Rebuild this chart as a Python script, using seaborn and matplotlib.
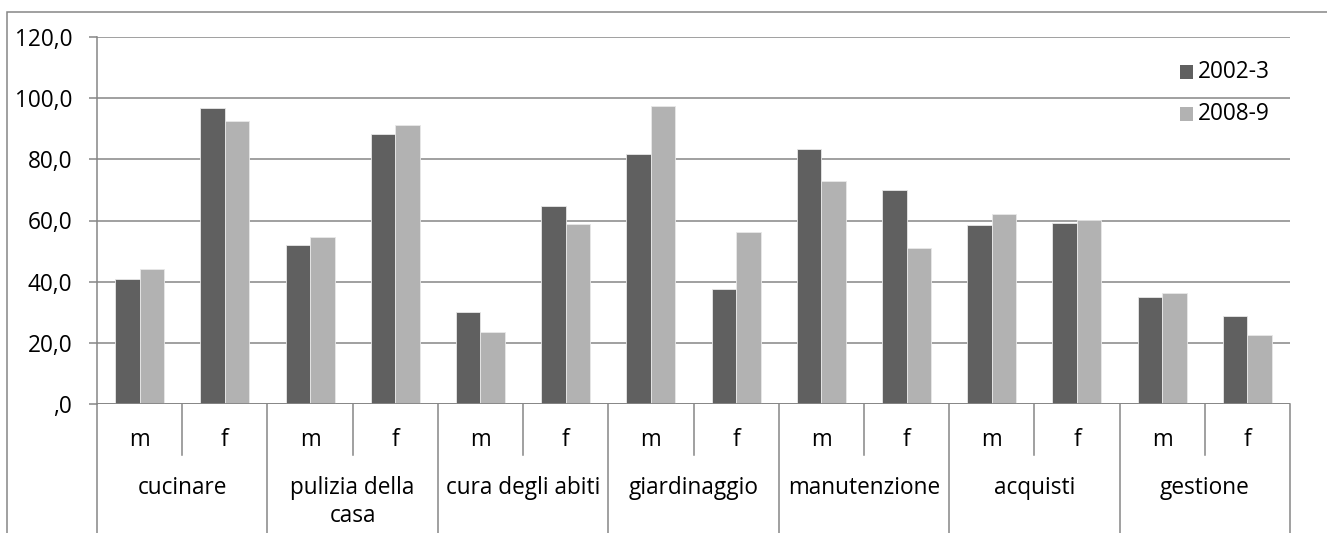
import matplotlib
matplotlib.use("Agg")
import matplotlib.pyplot as plt
import matplotlib.transforms as mtransforms
from matplotlib.patches import Rectangle
import seaborn as sns
import pandas as pd

# ---- data ----
groups = ["cucinare", "pulizia della\ncasa", "cura degli abiti", "giardinaggio",
          "manutenzione", "acquisti", "gestione"]
sexes = ["m", "f"]
series_names = ["2002-3", "2008-9"]
values_2002 = [41.0, 96.9, 52.0, 88.3, 30.2, 64.9, 81.6, 37.7, 83.5, 70.0, 58.4, 59.1, 35.0, 28.9]
values_2008 = [44.0, 92.4, 54.5, 91.2, 23.4, 58.8, 97.4, 56.1, 72.8, 51.0, 62.1, 60.2, 36.2, 22.6]
yticks = [0, 20, 40, 60, 80, 100, 120]
ytick_labels = [",0", "20,0", "40,0", "60,0", "80,0", "100,0", "120,0"]

slots = [f"{g}|{s}" for g in groups for s in sexes]
df = pd.DataFrame({
    "slot": slots * 2,
    "anno": [series_names[0]] * len(slots) + [series_names[1]] * len(slots),
    "valore": values_2002 + values_2008,
})

W, H = 1327, 533
fig = plt.figure(figsize=(W / 100, H / 100), dpi=100)
FONT = "Open Sans"
plt.rcParams["font.family"] = [FONT, "DejaVu Sans"]
FS = 16.3
GRID = "#868686"

left_px, right_px, top_px, zero_px = 97, 1290, 37, 404
ax = fig.add_axes([left_px / W, 1 - zero_px / H, (right_px - left_px) / W, (zero_px - top_px) / H])

# outer chart frame (cut off at the right/bottom)
fig.patches.append(Rectangle((7 / W, -0.1), 1.2, 1 - 12 / H + 0.1, transform=fig.transFigure,
                             fill=False, edgecolor=GRID, linewidth=1.1, zorder=0))

sns.barplot(data=df, x="slot", y="valore", hue="anno", order=slots,
            palette=["#606060", "#b2b2b2"], width=0.575, gap=0,
            edgecolor="#e8e8e8", linewidth=0.6, ax=ax, legend=False, zorder=3)

ax.set_xlim(-0.5, len(slots) - 0.5)
ax.set_ylim(0, 120)
ax.set_yticks(yticks)
ax.set_yticklabels(ytick_labels, fontsize=FS)
ax.tick_params(axis="y", length=6, width=1.1, color=GRID, pad=12)
ax.set_xticks([])
ax.set_xlabel("")
ax.set_ylabel("")
for side in ["top", "right", "bottom"]:
    ax.spines[side].set_visible(False)
ax.spines["left"].set_color(GRID)
ax.spines["left"].set_linewidth(1.1)
ax.grid(axis="y", color=GRID, linewidth=1.1, zorder=0)
ax.set_axisbelow(True)
ax.axhline(0, color=GRID, linewidth=1.3, zorder=4)

# multi-level category axis
axh = zero_px - top_px
def ay(px):
    return (zero_px - px) / axh

trans = mtransforms.blended_transform_factory(ax.transData, ax.transAxes)
for i, s in enumerate(slots):
    ax.text(i, ay(440), s.split("|")[1], transform=trans, ha="center", va="center",
            fontsize=FS, clip_on=False)
for gi, g in enumerate(groups):
    ax.text(2 * gi + 0.5, ay(476), g, transform=trans, ha="center", va="top",
            fontsize=FS, clip_on=False, linespacing=1.25)
    # short separator between m and f
    ax.plot([2 * gi + 0.5, 2 * gi + 0.5], [0, ay(455)], transform=trans, color=GRID,
            linewidth=1.1, clip_on=False)
for k in range(len(groups) + 1):
    x = 2 * k - 0.5
    ax.plot([x, x], [0, ay(540)], transform=trans, color=GRID, linewidth=1.1, clip_on=False)

# legend
for j, (name, col) in enumerate(zip(series_names, ["#606060", "#b2b2b2"])):
    yc = 72 + j * 42
    fig.patches.append(Rectangle((1180 / W, 1 - (yc + 7) / H), 13 / W, 14 / H,
                                 transform=fig.transFigure, facecolor=col, edgecolor="none"))
    fig.text(1198 / W, 1 - yc / H, name, ha="left", va="center", fontsize=FS)

fig.savefig("out.png", dpi=100)
